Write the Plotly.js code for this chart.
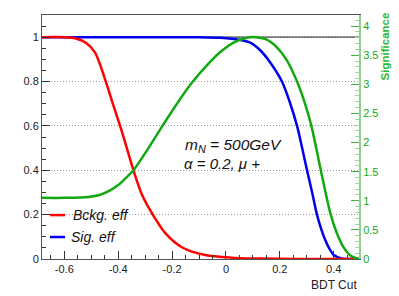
<!DOCTYPE html>
<html>
<head>
<meta charset="utf-8">
<script src="https://cdn.plot.ly/plotly-3.0.1.min.js"></script>
<style>
  html, body { margin: 0; padding: 0; background: #fff; }
  #chart { width: 399px; height: 296px; }
</style>
</head>
<body>
<div id="chart"></div>
<script>
// ---- data ----
const bckgCut = [-0.683, -0.60, -0.56, -0.52, -0.486, -0.446, -0.42, -0.393, -0.368, -0.3435, -0.31, -0.269, -0.222, -0.162, -0.077, 0.02, 0.12, 0.25, 0.494];
const bckgEff = [1.0, 1.0, 0.995, 0.975, 0.93, 0.80, 0.70, 0.60, 0.50, 0.40, 0.285, 0.195, 0.112, 0.052, 0.018, 0.006, 0.002, 0.0, 0.0];

const sigCut = [-0.683, -0.1, -0.02, 0.05, 0.09, 0.128, 0.165, 0.208, 0.239, 0.264, 0.283, 0.301, 0.320, 0.338, 0.355, 0.369, 0.385, 0.40, 0.425, 0.45, 0.494];
const sigEff = [1.0, 1.0, 0.997, 0.988, 0.975, 0.94, 0.885, 0.80, 0.70, 0.60, 0.50, 0.40, 0.30, 0.20, 0.13, 0.085, 0.045, 0.018, 0.004, 0.0, 0.0];

const signifCut = [-0.683, -0.60, -0.54, -0.504, -0.47, -0.43, -0.40, -0.381, -0.3435, -0.294, -0.238, -0.18, -0.126, -0.07, -0.02, 0.03, 0.07, 0.11, 0.15, 0.19, 0.225, 0.264, 0.29, 0.317, 0.3506, 0.388, 0.413, 0.437, 0.462, 0.494];
const significance = [1.05, 1.05, 1.055, 1.07, 1.10, 1.18, 1.27, 1.35, 1.524, 1.86, 2.27, 2.68, 3.03, 3.33, 3.56, 3.72, 3.79, 3.81, 3.77, 3.63, 3.42, 3.05, 2.72, 2.29, 1.56, 0.78, 0.43, 0.20, 0.06, 0.0];

const xTickVals = [-0.6, -0.4, -0.2, 0, 0.2, 0.4];
const xTickText = ["-0.6", "-0.4", "-0.2", "0", "0.2", "0.4"];

const FONT = "Liberation Sans, Arial, Helvetica, sans-serif";
const GREEN = "#12a812";
const NB = "\u00a0";

const traces = [
  { x: sigCut, y: sigEff, type: "scatter", mode: "lines", name: "Sig. eff",
    line: { color: "#0000ee", width: 2.5, shape: "spline", smoothing: 0.8 }, yaxis: "y" },
  { x: bckgCut, y: bckgEff, type: "scatter", mode: "lines", name: "Bckg. eff",
    line: { color: "#ff0000", width: 2.5, shape: "spline", smoothing: 0.8 }, yaxis: "y" },
  { x: signifCut, y: significance, type: "scatter", mode: "lines", name: "Significance",
    line: { color: GREEN, width: 2.5, shape: "spline", smoothing: 0.8 }, yaxis: "y2" }
];

const layout = {
  width: 399, height: 296,
  margin: { l: 42, r: 40, t: 15, b: 37 },
  paper_bgcolor: "#fff", plot_bgcolor: "#fff",
  showlegend: false,
  font: { family: FONT, size: 11, color: "#222" },
  xaxis: {
    range: [-0.683, 0.494],
    tickmode: "array", tickvals: xTickVals, ticktext: xTickText,
    ticks: "inside", ticklen: 8, tickcolor: "#333", tickwidth: 1,
    minor: { tickmode: "linear", tick0: 0, dtick: 0.05, ticks: "inside", ticklen: 4, tickcolor: "#333", showgrid: false },
    showline: true, linecolor: "#555", linewidth: 1, mirror: true,
    showgrid: false, zeroline: false,
    tickfont: { family: FONT, size: 11, color: "#222" }
  },
  yaxis: {
    range: [0, 1.1],
    tick0: 0, dtick: 0.2,
    ticks: "inside", ticklen: 8, tickcolor: "#333", tickwidth: 1,
    minor: { tick0: 0, dtick: 0.05, ticks: "inside", ticklen: 4, tickcolor: "#333", showgrid: false },
    showline: true, linecolor: "#555", linewidth: 1,
    showgrid: true, gridcolor: "#999", griddash: "1px,2px", gridwidth: 1,
    zeroline: false,
    tickfont: { family: FONT, size: 11, color: "#222" }
  },
  yaxis2: {
    overlaying: "y", side: "right",
    range: [0, 4.19],
    tick0: 0, dtick: 0.5,
    ticks: "inside", ticklen: 8, tickcolor: "#44b044", tickwidth: 1,
    minor: { tick0: 0, dtick: 0.1, ticks: "inside", ticklen: 4, tickcolor: "#9ad89a", showgrid: false },
    showline: true, linecolor: "#8fd08f", linewidth: 2,
    showgrid: false, zeroline: false,
    tickfont: { family: FONT, size: 11, color: GREEN }
  },
  shapes: [
    { type: "line", xref: "paper", x0: 0, x1: 1, yref: "y", y0: 1, y1: 1,
      line: { color: "#333", width: 1.2 }, layer: "below" },
    { type: "line", xref: "paper", x0: 0.0253, x1: 0.0726, yref: "paper", y0: 0.180, y1: 0.180,
      line: { color: "#ff0000", width: 2.5 } },
    { type: "line", xref: "paper", x0: 0.0253, x1: 0.0726, yref: "paper", y0: 0.090, y1: 0.090,
      line: { color: "#0000ee", width: 2.5 } }
  ],
  annotations: [
    { text: "BDT Cut", xref: "paper", yref: "paper", x: 1.0, y: -0.1066,
      xanchor: "right", yanchor: "middle", showarrow: false,
      font: { family: FONT, size: 12, color: "#222" } },
    { text: "<b>Significance</b>", xref: "paper", yref: "paper", x: 1.081, y: 0.870,
      xanchor: "center", yanchor: "middle", textangle: -90, showarrow: false,
      font: { family: FONT, size: 11.5, color: "#2db82d" } },
    { text: "<i>m<sub>N</sub>" + NB + "=" + NB + "500GeV</i>", xref: "paper", yref: "paper", x: 0.445, y: 0.467,
      xanchor: "left", yanchor: "middle", showarrow: false,
      font: { family: FONT, size: 15.5, color: "#111" } },
    { text: "<i>α" + NB + "=" + NB + "0.2," + NB + "μ" + NB + "+</i>", xref: "paper", yref: "paper", x: 0.442, y: 0.393,
      xanchor: "left", yanchor: "middle", showarrow: false,
      font: { family: FONT, size: 15, color: "#111" } },
    { text: "<i>Bckg. eff</i>", xref: "paper", yref: "paper", x: 0.0916, y: 0.180,
      xanchor: "left", yanchor: "middle", showarrow: false,
      font: { family: FONT, size: 14, color: "#111" } },
    { text: "<i>Sig. eff</i>", xref: "paper", yref: "paper", x: 0.085, y: 0.090,
      xanchor: "left", yanchor: "middle", showarrow: false,
      font: { family: FONT, size: 14, color: "#111" } }
  ]
};

Plotly.newPlot("chart", traces, layout, { staticPlot: true, displayModeBar: false });
</script>
</body>
</html>
